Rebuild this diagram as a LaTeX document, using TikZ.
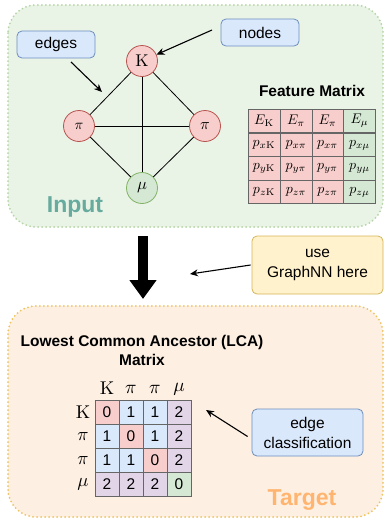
\RequirePackage{fix-cm}
\documentclass[tikz,border=0pt]{standalone}
\usepackage{fontspec}
\usepackage{graphicx}
\newfontfamily\arial{Liberation Sans}
\newcommand\msc[2]{\scalebox{#1}{$#2$}}
\usetikzlibrary{arrows.meta}
\definecolor{inbg}{HTML}{E9F3E6}
\definecolor{indot}{HTML}{B5D5A5}
\definecolor{tgbg}{HTML}{FDEFE2}
\definecolor{tgdot}{HTML}{EFC35E}
\definecolor{redf}{HTML}{F8CECC}
\definecolor{redd}{HTML}{B85450}
\definecolor{grnf}{HTML}{D5E8D4}
\definecolor{grnd}{HTML}{82B366}
\definecolor{bluf}{HTML}{DAE8FC}
\definecolor{blud}{HTML}{6C8EBF}
\definecolor{yelf}{HTML}{FFF2CC}
\definecolor{yeld}{HTML}{D6B656}
\definecolor{purf}{HTML}{E1D5E7}
\definecolor{celld}{HTML}{666666}
\definecolor{inputc}{HTML}{67AB9F}
\definecolor{targetc}{HTML}{FFB570}
\begin{document}
\begin{tikzpicture}[x=1pt,y=-1pt,
  region/.style={rounded corners=28pt, line width=2pt, line cap=round, dash pattern=on 0pt off 4pt},
  pnode/.style={circle, draw=redd, fill=redf, minimum size=31pt, inner sep=0pt, line width=0.8pt, font=\normalsize},
  mnode/.style={circle, draw=grnd, fill=grnf, minimum size=31pt, inner sep=0pt, line width=0.8pt, font=\normalsize},
  note/.style={rectangle, rounded corners=5pt, draw=blud, fill=bluf, line width=0.8pt, align=center, inner sep=0pt,
     font=\arial\fontsize{15.5}{20}\selectfont},
  ynote/.style={note, draw=yeld, fill=yelf},
  arr/.style={-{Stealth[length=8pt,width=7pt]}, line width=1.1pt},
  fcell/.style={rectangle, draw=celld, line width=0.8pt, minimum width=32pt, minimum height=23.5pt, inner sep=0pt,
     font=\normalsize},
  lcell/.style={rectangle, draw=celld, line width=0.8pt, minimum width=24pt, minimum height=24pt, inner sep=0pt,
     font=\arial\fontsize{15.5}{18}\selectfont},
  hdr/.style={inner sep=0pt, font=\normalsize},
  ttl/.style={inner sep=0pt, align=center, font=\arial\bfseries\fontsize{15.5}{19}\selectfont},
  big/.style={inner sep=0pt, font=\arial\bfseries\fontsize{23}{26}\selectfont}
]
\useasboundingbox (0,0) rectangle (385,520);
% regions
\draw[region, fill=inbg, draw=indot] (8,5) rectangle (383,227);
\draw[region, fill=tgbg, draw=tgdot] (8,306) rectangle (383,517);
\node[big, text=inputc] (input) at (75,207) {Input};
\node[big, text=targetc] (target) at (302,500) {Target};

% graph
\node[pnode] (K) at (142,61) {\msc{1.7}{\mathrm{K}}};
\node[pnode] (pL) at (79,126) {\msc{1.45}{\pi}};
\node[pnode] (pR) at (205,126) {\msc{1.6}{\pi}};
\node[mnode] (mu) at (142,188) {\msc{1.65}{\mu}};
\draw[line width=0.8pt] (K) -- (pL);
\draw[line width=0.8pt] (K) -- (pR);
\draw[line width=0.8pt] (K) -- (mu);
\draw[line width=0.8pt] (pL) -- (pR);
\draw[line width=0.8pt] (pL) -- (mu);
\draw[line width=0.8pt] (pR) -- (mu);

% notes
\node[note, minimum width=78pt, minimum height=27pt] (edges) at (56,44.5) {edges};
\node[note, minimum width=78pt, minimum height=27pt] (nodes) at (260,32.5) {nodes};
\coordinate (edgesfrom) at (71,62);
\coordinate (edgesto) at (102,92);
\draw[arr] (edgesfrom) -- (edgesto);
\coordinate (nodesfrom) at (212,30);
\draw[arr] (nodesfrom) -- (K);

% feature matrix
\node[ttl] (ftitle) at (312,91) {Feature Matrix};
\foreach \r/\y/\a/\b/\c/\d in {
  1/121/{E_{\mathrm{K}}}/{E_\pi}/{E_\pi}/{E_\mu},
  2/145/{p_{x\mathrm{K}}}/{p_{x\pi}}/{p_{x\pi}}/{p_{x\mu}},
  3/168.5/{p_{y\mathrm{K}}}/{p_{y\pi}}/{p_{y\pi}}/{p_{y\mu}},
  4/192/{p_{z\mathrm{K}}}/{p_{z\pi}}/{p_{z\pi}}/{p_{z\mu}}}{
  \node[fcell, fill=redf] (f\r1) at (264,\y) {\msc{1.4}{\a}};
  \node[fcell, fill=redf] (f\r2) at (296,\y) {\msc{1.4}{\b}};
  \node[fcell, fill=redf, minimum width=31pt] (f\r3) at (327.5,\y) {\msc{1.4}{\c}};
  \node[fcell, fill=grnf] (f\r4) at (359.5,\y) {\msc{1.4}{\d}};
}

% big arrow
\coordinate (bigtop) at (143,236);
\coordinate (bigbot) at (143,299);
\draw[line width=10pt, -{Triangle[length=19pt,width=26pt]}] (bigtop) -- (bigbot);
\node[ynote, minimum width=131pt, minimum height=58pt] (gnn) at (317.5,265) {use\\GraphNN here};
\coordinate (gnnto) at (190,274);
\draw[arr] ([xshift=-1pt]gnn.west) -- (gnnto);

% LCA matrix
\node[ttl] (ltitle) at (142,350.5) {Lowest Common Ancestor (LCA)\\Matrix};
\node[hdr] (c1) at (107,388) {\msc{1.85}{\mathrm{K}}};
\node[hdr] (c2) at (131,389) {\msc{1.9}{\pi}};
\node[hdr] (c3) at (155,389) {\msc{1.9}{\pi}};
\node[hdr] (c4) at (179,389) {\msc{1.9}{\mu}};
\foreach \r/\y/\h in {1/412.5/\mathrm{K},2/436.5/\pi,3/460.5/\pi,4/484.5/\mu}{
  \node[hdr] (r\r) at (83,\y) {\msc{1.85}{\h}};
}
\foreach \r/\y/\a/\fa/\b/\fb/\c/\fc/\d/\fd in {
  1/412.5/0/redf/1/bluf/1/bluf/2/purf,
  2/436.5/1/bluf/0/redf/1/bluf/2/purf,
  3/460.5/1/bluf/1/bluf/0/redf/2/purf,
  4/484.5/2/purf/2/purf/2/purf/0/grnf}{
  \node[lcell, fill=\fa] (m\r1) at (107,\y) {\a};
  \node[lcell, fill=\fb] (m\r2) at (131,\y) {\b};
  \node[lcell, fill=\fc] (m\r3) at (155,\y) {\c};
  \node[lcell, fill=\fd] (m\r4) at (179,\y) {\d};
}
\node[note, minimum width=111pt, minimum height=47pt] (ecl) at (307.5,432.5) {edge\\classification};
\coordinate (eclto) at (206,410);
\draw[arr] ([xshift=-4pt,yshift=-4pt]ecl.west) -- (eclto);
\end{tikzpicture}
\end{document}
